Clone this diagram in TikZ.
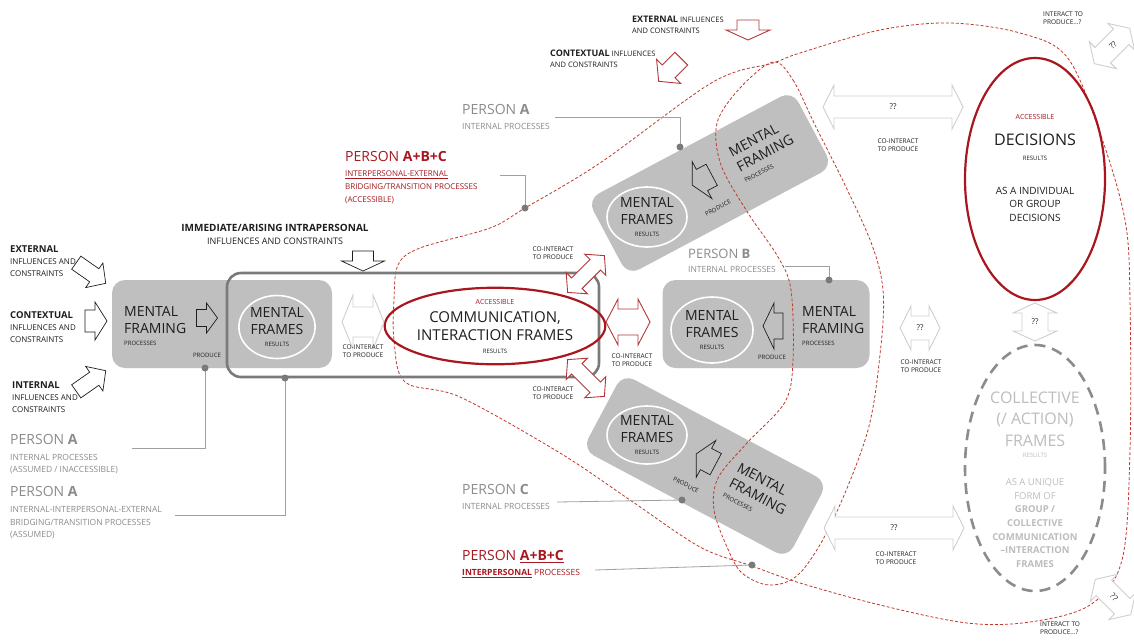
\documentclass[tikz,border=0pt]{standalone}
\usepackage{fontspec}
\setmainfont{Open Sans}
\usetikzlibrary{shapes.geometric}

\definecolor{boxgray}{HTML}{BFBFBF}
\definecolor{edgegray}{HTML}{7A7A7A}
\definecolor{leadgray}{HTML}{A0A0A0}
\definecolor{labelgray}{HTML}{8C8C8C}
\definecolor{ghostgray}{HTML}{BDBDBD}
\definecolor{palegray}{HTML}{CFCFCF}
\definecolor{deepred}{HTML}{A8171F}
\definecolor{arrowred}{HTML}{B3383A}
\definecolor{dashred}{HTML}{C0392B}
\definecolor{ink}{HTML}{1E1E1E}

\newcommand\fsz[2]{\fontsize{#1}{#2}\selectfont}

\tikzset{
  pics/onearrow/.style n args={4}{code={
    \path[pic actions] (-#1/2,-#4/2) -- (#1/2-#3,-#4/2) -- (#1/2-#3,-#2/2) -- (#1/2,0)
      -- (#1/2-#3,#2/2) -- (#1/2-#3,#4/2) -- (-#1/2,#4/2) -- cycle;}},
  pics/twoarrow/.style n args={4}{code={
    \path[pic actions] (-#1/2,0) -- (-#1/2+#3,-#2/2) -- (-#1/2+#3,-#4/2) -- (#1/2-#3,-#4/2)
      -- (#1/2-#3,-#2/2) -- (#1/2,0) -- (#1/2-#3,#2/2) -- (#1/2-#3,#4/2)
      -- (-#1/2+#3,#4/2) -- (-#1/2+#3,#2/2) -- cycle;}},
  graybox/.style={fill=boxgray, rounded corners=13pt, inner sep=0pt},
  outlinebox/.style={draw=edgegray, line width=2.6pt, rounded corners=14pt, inner sep=0pt},
  frameell/.style={ellipse, draw=white, line width=1.6pt, fill=boxgray, align=center,
    inner sep=0pt, font=\fsz{14}{17}},
  lbl/.style={anchor=west, align=left},
  produce/.style={draw=ink, line width=0.7pt, fill=boxgray},
  plainarrow/.style={draw=ink, line width=0.7pt, fill=white},
  redarrow/.style={draw=arrowred, line width=0.9pt, fill=white},
  palearrow/.style={draw=palegray, line width=0.9pt, fill=white},
  leader/.style={draw=leadgray, line width=0.8pt},
  dot/.style={circle, fill=edgegray, minimum size=7pt, inner sep=0pt},
  reddash/.style={draw=dashred, line width=0.8pt, dash pattern=on 3pt off 2pt},
  small/.style={font=\fsz{6.5}{8.5}, align=center},
  tiny/.style={font=\fsz{6}{7}},
  qq/.style={font=\fsz{8}{9}},
}

\begin{document}
\begin{tikzpicture}[x=1pt, y=-1pt, every node/.style={inner sep=0pt, text=ink}]
\useasboundingbox (0,0) rectangle (1134,643);
\fill[white] (0,0) rectangle (1134,643);

% ---- gray process boxes
\node[graybox, minimum width=220, minimum height=88] (boxA) at (222,324) {};
\node[graybox, minimum width=207, minimum height=88] (boxB) at (766,324) {};
\node[graybox, rotate=28, minimum width=232, minimum height=86] (boxUp) at (710,183) {};
\node[graybox, rotate=-28, minimum width=232, minimum height=86] (boxDn) at (705,466) {};

% ---- dashed regions (bridging region and interpersonal region)
\draw[reddash] plot[smooth cycle, tension=0.55] coordinates {
  (394,300) (398,265) (420,248) (490,228) (525,208) (600,163) (713,82) (773,63)
  (800,53) (880,30) (950,23) (1020,33) (1067,57) (1100,133) (1125,220) (1130,300)
  (1130,450) (1122,560) (1090,605) (1030,622) (967,623) (880,605) (800,583)
  (752,566) (700,547) (630,500) (560,453) (460,397) (405,382) (394,340)};
\draw[reddash] plot[smooth cycle, tension=0.55] coordinates {
  (773,62) (793,80) (815,125) (845,185) (872,245) (883,290) (881,345) (868,430)
  (833,520) (800,573) (770,585) (742,573) (727,547) (714,510) (718,478) (747,443)
  (785,402) (793,360) (791,290) (778,257) (748,213) (721,165) (717,123) (740,88)};

% ---- outlined frame around the intrapersonal results
\node[outlinebox, minimum width=372, minimum height=104] (frameBox) at (413,325) {};

% ---- frames (results)
\node[frameell, minimum width=72, minimum height=63] (frA) at (277,327)
  {MENTAL\\FRAMES\\[-5pt]{\fsz{6}{7}RESULTS}};
\node[frameell, minimum width=82, minimum height=66] (frB) at (712,330)
  {MENTAL\\FRAMES\\[-5pt]{\fsz{6}{7}RESULTS}};
\node[frameell, minimum width=80, minimum height=60] (frUp) at (647,217)
  {MENTAL\\FRAMES\\[-5pt]{\fsz{6}{7}RESULTS}};
\node[frameell, minimum width=80, minimum height=58] (frDn) at (647,435)
  {MENTAL\\FRAMES\\[-5pt]{\fsz{6}{7}RESULTS}};

% ---- framing processes
\node[lbl, font=\fsz{14}{17}] (mfA) at (124,326) {MENTAL\\FRAMING\\[-5pt]{\fsz{6}{7}PROCESSES}};
\node[lbl, font=\fsz{14}{17}] (mfB) at (802,326) {MENTAL\\FRAMING\\[-5pt]{\fsz{6}{7}PROCESSES}};
\node[align=left, rotate=28, font=\fsz{14}{17}] (mfUp) at (764,151) {MENTAL\\FRAMING\\[-5pt]{\fsz{6}{7}PROCESSES}};
\node[align=left, rotate=-28, font=\fsz{14}{17}] (mfDn) at (759,494) {MENTAL\\FRAMING\\[-5pt]{\fsz{6}{7}PROCESSES}};

% ---- produce arrows
\pic[produce] at (207,318) {onearrow={21}{30}{11}{17}};
\pic[produce, rotate=180] at (773,326) {onearrow={20}{46}{11}{26}};
\pic[produce, rotate=208] at (702,180) {onearrow={22}{42}{11}{24}};
\pic[produce, rotate=152] at (706,459) {onearrow={22}{42}{11}{24}};
\node[tiny] (prA) at (207,355) {PRODUCE};
\node[tiny] (prB) at (772,357) {PRODUCE};
\node[tiny, rotate=28] (prUp) at (718,208) {PRODUCE};
\node[tiny, rotate=-28] (prDn) at (686,485) {PRODUCE};

% ---- communication / interaction frames
\node[ellipse, draw=deepred, line width=2.2pt, minimum width=180, minimum height=70,
  align=center, font=\fsz{15}{18}] (comm) at (495,326)
  {{\color{deepred}\fsz{7}{8}ACCESSIBLE}\\COMMUNICATION,\\INTERACTION FRAMES\\[-5pt]{\fsz{6}{7}RESULTS}};

% ---- co-interact arrows
\pic[palearrow] at (363,322) {twoarrow={42}{54}{11}{30}};
\node[small] (ciA) at (363,351) {CO-INTERACT\\TO PRODUCE};
\pic[redarrow, rotate=45] at (586,274) {twoarrow={52}{30}{13}{15}};
\pic[redarrow, rotate=-45] at (586,378) {twoarrow={52}{30}{13}{15}};
\pic[redarrow] at (628,322) {twoarrow={44}{46}{12}{26}};
\node[small] (ciUp) at (553,253) {CO-INTERACT\\TO PRODUCE};
\node[small] (ciDn) at (553,393) {CO-INTERACT\\TO PRODUCE};
\node[small] (ciMid) at (632,360) {CO-INTERACT\\TO PRODUCE};

% ---- decisions and collective frames
\node[ellipse, draw=deepred, line width=2.2pt, minimum width=140, minimum height=242] (dec) at (1035,179) {};
\node[text=deepred, font=\fsz{7}{8}] (decAcc) at (1035,117) {ACCESSIBLE};
\node[font=\fsz{16}{18}] (decT) at (1035,140) {DECISIONS};
\node[tiny] (decR) at (1035,158) {RESULTS};
\node[font=\fsz{10}{13.5}, align=center] (decD) at (1035,204) {AS A INDIVIDUAL\\OR GROUP\\DECISIONS};

\node[ellipse, draw=labelgray, line width=2.6pt, dash pattern=on 11pt off 7pt,
  minimum width=140, minimum height=246] (col) at (1035,468) {};
\node[text=ghostgray, font=\fsz{16}{21.5}, align=center] (colT) at (1035,419) {COLLECTIVE\\(/ ACTION)\\FRAMES};
\node[text=ghostgray, tiny] (colR) at (1035,455) {RESULTS};
\node[text=ghostgray, font=\fsz{9.5}{13.7}, align=center] (colD) at (1035,523)
  {AS A UNIQUE\\FORM OF\\\textbf{GROUP /}\\\textbf{COLLECTIVE}\\\textbf{COMMUNICATION}\\\textbf{–INTERACTION}\\\textbf{FRAMES}};

% ---- open questions between results
\pic[palearrow] at (893,107) {twoarrow={140}{44}{11}{22}};
\node[qq] (qTop) at (893,107) {??};
\node[small] (ciTop) at (898,145) {CO-INTERACT\\TO PRODUCE};
\pic[palearrow] at (920,328) {twoarrow={40}{44}{11}{24}};
\node[qq] (qMid) at (920,328) {??};
\node[small] (ciRt) at (921,366) {CO-INTERACT\\TO PRODUCE};
\pic[palearrow] at (894,528) {twoarrow={140}{44}{11}{22}};
\node[qq] (qBot) at (894,528) {??};
\node[small] (ciBot) at (896,558) {CO-INTERACT\\TO PRODUCE};
\pic[palearrow, rotate=90] at (1035,322) {twoarrow={38}{44}{10}{26}};
\node[qq] (qVert) at (1035,322) {??};
\pic[palearrow, rotate=45] at (1112,46) {twoarrow={50}{38}{12}{22}};
\node[qq, rotate=45] (qNE) at (1113,45) {??};
\node[small, lbl] (itTop) at (1043,18) {INTERACT TO\\PRODUCE...?};
\pic[palearrow, rotate=-45] at (1113,597) {twoarrow={50}{38}{12}{22}};
\node[qq, rotate=-45] (qSE) at (1114,597) {??};
\node[small, lbl] (itBot) at (1040,628) {INTERACT TO\\PRODUCE...?};

% ---- influences and constraints
\pic[plainarrow, rotate=-35] at (91,273) {onearrow={36}{30}{14}{16}};
\pic[plainarrow] at (96,321) {onearrow={22}{38}{12}{22}};
\pic[plainarrow, rotate=35] at (91,381) {onearrow={36}{30}{14}{16}};
\pic[plainarrow, rotate=-90] at (363,261) {onearrow={20}{43}{10}{21}};
\pic[redarrow, rotate=-90] at (748,30) {onearrow={20}{44}{10}{22}};
\pic[redarrow, rotate=-135] at (670,70) {onearrow={32}{34}{14}{18}};

\node[lbl, font=\fsz{8}{12}] (extL) at (10,261) {{\fsz{9.5}{12}\bfseries EXTERNAL}\\INFLUENCES AND\\CONSTRAINTS};
\node[lbl, font=\fsz{8}{12}] (ctxL) at (10,327) {{\fsz{9.5}{12}\bfseries CONTEXTUAL}\\INFLUENCES AND\\CONSTRAINTS};
\node[lbl, font=\fsz{8}{12}] (intL) at (12,397) {{\fsz{9.5}{12}\bfseries INTERNAL}\\INFLUENCES AND\\CONSTRAINTS};
\node[align=center, font=\fsz{9}{13}] (immL) at (275,234) {{\fsz{10}{13}\bfseries IMMEDIATE/ARISING INTRAPERSONAL}\\INFLUENCES AND CONSTRAINTS};
\node[lbl, font=\fsz{7.5}{11}] (extT) at (632,25) {{\fsz{9}{11}\bfseries EXTERNAL} INFLUENCES\\AND CONSTRAINTS};
\node[lbl, font=\fsz{7.5}{11}] (ctxT) at (550,59) {{\fsz{9}{11}\bfseries CONTEXTUAL} INFLUENCES\\AND CONSTRAINTS};

% ---- person labels
\node[lbl, text=labelgray, font=\fsz{8.5}{12}] (pA1) at (10,454)
  {{\fsz{14}{15}PERSON \textbf{A}}\\[3.5pt]INTERNAL PROCESSES\\(ASSUMED / INACCESSIBLE)};
\node[lbl, text=labelgray, font=\fsz{8.5}{12.5}] (pA2) at (10,513)
  {{\fsz{14}{15}PERSON \textbf{A}}\\[3.5pt]INTERNAL-INTERPERSONAL-EXTERNAL\\BRIDGING/TRANSITION PROCESSES\\(ASSUMED)};
\node[lbl, text=labelgray, font=\fsz{8.5}{12}] (pAu) at (462,117)
  {{\fsz{14}{15}PERSON \textbf{A}}\\[3.5pt]INTERNAL PROCESSES};
\node[lbl, text=labelgray, font=\fsz{8.5}{12}] (pB) at (688,261)
  {{\fsz{13}{15}PERSON \textbf{B}}\\[2pt]INTERNAL PROCESSES};
\node[lbl, text=labelgray, font=\fsz{8.5}{12}] (pC) at (462,497)
  {{\fsz{14}{15}PERSON \textbf{C}}\\[3.5pt]INTERNAL PROCESSES};
\node[lbl, text=deepred, font=\fsz{8}{13}] (pXu) at (345,178)
  {{\fsz{14}{15}PERSON \textbf{A+B+C}}\\[2pt]\underline{INTERPERSONAL-EXTERNAL}\\BRIDGING/TRANSITION PROCESSES\\(ACCESSIBLE)};
\node[lbl, text=deepred, font=\fsz{8.5}{12}] (pXd) at (462,564)
  {{\fsz{14}{15}PERSON \underline{\textbf{A+B+C}}}\\[3.5pt]\underline{\textbf{INTERPERSONAL}} PROCESSES};

% ---- leaders to their dots
\coordinate (dA1) at (205,368);
\coordinate (dA2) at (285,378);
\coordinate (dUp) at (680,147);
\coordinate (dB) at (829,280);
\coordinate (dC) at (682,500);
\coordinate (dX) at (525,208);
\coordinate (dY) at (752,565);
\coordinate (lA1) at (132,448);
\coordinate (lA2) at (175,515);
\coordinate (lUp) at (555,117);
\coordinate (lB) at (785,266);
\coordinate (lC) at (557,502);
\coordinate (lX) at (500,175);
\coordinate (lY) at (595,570);
\draw[leader] (lA1) -| (dA1);
\draw[leader] (lA2) -| (dA2);
\draw[leader] (lUp) -| (dUp);
\draw[leader] (lB) -| (dB);
\draw[leader] (lC) -- (dC);
\draw[leader] (lX) -| (dX);
\draw[leader] (lY) -- (dY);
\node[dot] (dotA1) at (dA1) {};
\node[dot] (dotA2) at (dA2) {};
\node[dot] (dotUp) at (dUp) {};
\node[dot] (dotB) at (dB) {};
\node[dot] (dotC) at (dC) {};
\node[dot] (dotX) at (dX) {};
\node[dot] (dotY) at (dY) {};
\end{tikzpicture}
\end{document}
